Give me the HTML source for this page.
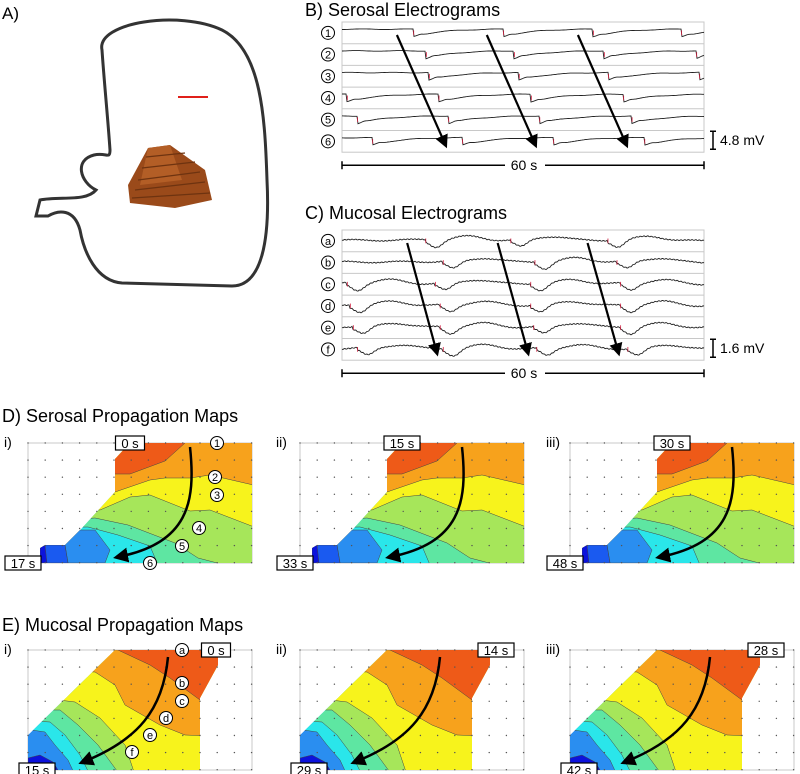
<!DOCTYPE html>
<html><head><meta charset="utf-8">
<style>
html,body{margin:0;padding:0;background:#fff;}
svg{display:block;font-family:"Liberation Sans",Arial,sans-serif;}
</style></head>
<body>
<svg id="fig" width="800" height="774" viewBox="0 0 800 774" xmlns="http://www.w3.org/2000/svg">
  <g>
    <text x="2" y="19" font-size="17">A)</text>
    <path fill="none" stroke="#333" stroke-width="3"
      d="M102,50 C96,22 180,10 222,30 C262,50 265,120 267,180 C270,240 262,286 232,286 L122,283 C96,281 84,252 80,230 C74,208 58,210 48,216 L36,216 L40,200 C60,196 86,202 96,190 C80,182 74,160 94,155 C106,152 110,160 110,150 C108,120 104,80 102,50 Z"/>
    <line x1="178" y1="97" x2="208" y2="97" stroke="#e0201a" stroke-width="2"/>
    <g>
      <polygon points="148,148 170,145 205,170 212,200 175,208 130,203 128,185" fill="#9a4a1a"/>
      <polygon points="148,148 170,145 182,180 140,185" fill="#b35e26"/>
      <g stroke="#6e3310" stroke-width="1.2">
        <line x1="135" y1="190" x2="205" y2="182"/><line x1="138" y1="180" x2="200" y2="172"/>
        <line x1="142" y1="168" x2="195" y2="162"/><line x1="146" y1="157" x2="185" y2="153"/>
        <line x1="132" y1="198" x2="210" y2="193"/>
      </g>
    </g>
  </g>

  <g id="panelB">
    <text x="305" y="16" font-size="18">B)  Serosal Electrograms</text>
  </g>
  <g id="panelC">
    <text x="305" y="219" font-size="18">C)  Mucosal Electrograms</text>
  </g>
  <text x="2" y="422" font-size="18">D)  Serosal Propagation Maps</text>
  <text x="2" y="631" font-size="18">E)  Mucosal Propagation Maps</text>
  <g id="maps"></g>
  <defs>
    <marker id="ah" markerWidth="6" markerHeight="6" refX="4" refY="3" orient="auto" markerUnits="strokeWidth">
      <path d="M0,0 L6,3 L0,6 Z" fill="#000"/>
    </marker>
  </defs>
</svg>
<script>
// ---- Electrogram data (activation times in seconds, 60 s window) ----
const serosalLabels = ['1','2','3','4','5','6'];
const serosalEvents = [
  [11.8, 26.7, 41.6, 56.2],
  [13.9, 28.5, 43.4, 58.7],
  [14.4, 29.3, 44.1, 59.2],
  [0.8, 16.0, 31.3, 46.6],
  [2.5, 17.6, 32.7, 48.0],
  [5.0, 19.9, 35.0, 50.1]
];
const mucosalLabels = ['a','b','c','d','e','f'];
const mucosalEvents = [
  [13.8, 27.9, 44.0],
  [16.7, 31.9, 45.5],
  [0.8, 15.4, 31.2, 46.1],
  [1.3, 16.2, 31.2, 46.1],
  [1.8, 16.2, 31.7, 46.1],
  [2.5, 16.7, 32.2, 47.3]
];
const serosalArrowTimes = [[9.1, 17.1], [24.0, 32.0], [39.1, 47.1]];
const mucosalArrowTimes = [[10.8, 15.7], [25.8, 30.8], [40.7, 45.8]];
const timeSpan = 60;

const NS = 'http://www.w3.org/2000/svg';
function mk(tag, attrs, parent){ const e=document.createElementNS(NS,tag); for(const k in attrs) e.setAttribute(k,attrs[k]); if(parent) parent.appendChild(e); return e; }

function drawElectrograms(g, top, labels, events, arrows, amp, smooth, scaleText, kind){
  const x0=342, x1=704, rowH=21.7, n=labels.length, bottom=top+rowH*n;
  const xs = t => x0 + t/timeSpan*(x1-x0);
  const fr = mk('rect',{x:x0,y:top,width:x1-x0,height:bottom-top,fill:'none',stroke:'#c8c8c8','stroke-width':1},g);
  
  
  for(let i=1;i<n;i++){
    const l=mk('line',{x1:x0,x2:x1,y1:top+i*rowH,y2:top+i*rowH,stroke:'#c8c8c8','stroke-width':1},g);
    
    
  }
  labels.forEach((lab,i)=>{
    const cy = top + rowH*(i+0.5);
    const c=mk('circle',{cx:328,cy:cy,r:6.5,fill:'#fff',stroke:'#000','stroke-width':1},g);
    
    
    const t=mk('text',{x:328,y:cy+4,'font-size':11,'text-anchor':'middle'},g);
    t.textContent=lab;
    
    
    const ev = events[i];
    let d='';
    for(let px=x0; px<=x1; px+=1){
      const t2=(px-x0)/(x1-x0)*timeSpan;
      let last=-1e9; for(const e of ev) if(e<=t2) last=e;
      let next=1e9; for(const e of ev) if(e>t2){next=e;break;}
      let v;
      const since=t2-last, until=next-t2;
      if(smooth){
        const p = last<-1e8 ? 12 : since;
        const dip = Math.exp(-Math.pow((p-1.8)/1.4,2));
        const rise = Math.exp(-Math.pow((p-7)/3.5,2));
        v = -0.8*dip + 0.55*rise + 0.1*Math.exp(-until/3) + 0.06*Math.sin(px*1.7) + 0.1*Math.sin(px/9+i);
      } else {
        const p = last<-1e8 ? 14 : since;
        v = 0.5 - 1.0*Math.exp(-p/4.5) + 0.1*Math.exp(-Math.pow((p-1.2)/0.6,2)) + 0.04*Math.sin(px/7+i);
      }
      const y = cy - v*amp;
      d += (px===x0?'M':'L')+px+','+y.toFixed(1);
    }
    const p=mk('path',{d:d,fill:'none',stroke:'#222','stroke-width':0.9},g);
    
    
    ev.forEach(e=>{
      const ex=xs(e);
      const r=mk('line',{x1:ex+0.5,x2:ex+0.5,y1:cy-amp*0.3,y2:cy+amp*0.3,stroke:'#d02040','stroke-width':0.8},g);
      
      
    });
  });
  arrows.forEach(a=>{
    const ar=mk('line',{x1:xs(a[0]),y1:top+13,x2:xs(a[1]),y2:bottom-8,stroke:'#000','stroke-width':2.2,'marker-end':'url(#ah)'},g);
    
    
  });
  const sy=bottom-12;
  const sb=mk('path',{d:`M710,${sy-9}h6M713,${sy-9}v18M710,${sy+9}h6`,stroke:'#000','stroke-width':1.5,fill:'none'},g);
  
  
  const st=mk('text',{x:720,y:sy+5,'font-size':14},g);
  st.textContent=scaleText;
  
  
  const ty=bottom+13;
  const tb=mk('path',{d:`M${x0},${ty}H505M545,${ty}H${x1}M${x0},${ty-4}v8M${x1},${ty-4}v8`,stroke:'#000','stroke-width':1.5,fill:'none'},g);
  
  
  const tt=mk('text',{x:524,y:ty+5,'font-size':14,'text-anchor':'middle'},g);
  tt.textContent='60 s';
  
  
}
drawElectrograms(document.getElementById('panelB'),22,serosalLabels,serosalEvents,serosalArrowTimes,8,false,'4.8 mV','serosal');
drawElectrograms(document.getElementById('panelC'),230,mucosalLabels,mucosalEvents,mucosalArrowTimes,8,true,'1.6 mV','mucosal');

// ---- Propagation maps ----
const serosalStart = [0, 15, 30];
const serosalEnd = [17, 33, 48];
const mucosalStart = [0, 14, 28];
const mucosalEnd = [15, 29, 42];
const romans=['i)','ii)','iii)'];
const mapX=[28,300,570];
const C={red:'#ee5a18',orange:'#f7a21c',yellow:'#f7f31c',green:'#a6e65a',aqua:'#5ee6a2',cyan:'#2ae6ea',blue:'#2a8ef0',blue2:'#1a5af0',dblue:'#0c12dc'};

const serShape=[[87,16],[102,0],[224,0],[224,120],[12,120],[12,105],[17,102],[37,102],[54,85],[87,49]];
const serBase=C.cyan;
const serBands=[
  [C.aqua,[[-10,85],[60,84],[90,92],[122,103],[130,122],[234,122]]],
  [C.green,[[-10,80],[67,75],[100,82],[147,100],[170,115],[197,122],[234,122]]],
  [C.yellow,[[-10,62],[72,67],[102,54],[122,52],[147,62],[162,68],[182,67],[234,87]]],
  [C.orange,[[-10,49],[87,49],[122,37],[137,35],[162,35],[182,32],[234,44]]],
  [C.red,[[-10,40],[87,31],[102,31],[137,18],[157,0],[160,-5],[234,-5]]]
];
const serPatches=[
  [C.blue,[[37,102],[52,87],[67,87],[82,107],[77,120],[40,120]]],
  [C.blue2,[[17,102],[37,102],[40,120],[16,120]]],
  [C.dblue,[[12,105],[17,102],[19,120],[12,120]]]
];
const mucShape=[[87,0],[190,0],[190,15],[172,48],[172,120],[0,120],[0,85]];
const mucBase=C.blue;
const mucBands=[
  [C.cyan,[[-10,78],[17,82],[27,95],[40,110],[47,125]]],
  [C.aqua,[[-10,70],[22,72],[37,85],[52,105],[62,125]]],
  [C.green,[[-10,60],[32,60],[50,75],[70,95],[92,125]]],
  [C.yellow,[[-10,45],[47,52],[72,68],[97,95],[107,125]]],
  [C.orange,[[-10,20],[67,22],[87,35],[97,55],[132,75],[157,85],[234,88]]],
  [C.red,[[-10,-5],[90,0],[122,15],[142,28],[172,50],[234,50]]]
];
const mucPatches=[[C.dblue,[[0,108],[12,105],[25,112],[30,120],[0,120]]]];

const mapsG=document.getElementById('maps');
let clipId=0;
function pts(a){return a.map(p=>p.join(',')).join(' ');}
function labelBox(g,cx,cy,txt,name){
  const w=txt.length*7+8;
  const r=mk('rect',{x:cx-w/2,y:cy-7,width:w,height:14,fill:'#fff',stroke:'#000','stroke-width':1.2},g);
  
  
  const t=mk('text',{x:cx,y:cy+5,'font-size':13,'text-anchor':'middle'},g);
  t.textContent=txt;
  
  
}
function circLabel(g,x,y,txt,kind){
  const c=mk('circle',{cx:x,cy:y,r:6.5,fill:'#fff',stroke:'#000','stroke-width':1},g);
  
  
  const t=mk('text',{x:x,y:y+4,'font-size':11,'text-anchor':'middle'},g);
  t.textContent=txt;
  
  
}
function drawMap(ox,oy,shape,base,bands,patches,kind,idx,arrowD,startTxt,startPos,endTxt,endPos,markers){
  const g=mk('g',{transform:`translate(${ox},${oy})`},mapsG);
  
  
  const rl=mk('text',{x:-24,y:4,'font-size':14},g);
  rl.textContent=romans[idx];
  
  
  const fr=mk('rect',{x:0,y:0,width:224,height:120,fill:'none',stroke:'#bbb','stroke-width':0.8},g);
  
  
  const id='clip'+(clipId++);
  const cp=mk('clipPath',{id:id},g); mk('polygon',{points:pts(shape)},cp);
  const cg=mk('g',{'clip-path':`url(#${id})`},g);
  
  
  mk('polygon',{points:pts(shape),fill:base},cg);
  bands.forEach(b=>{
    const line=b[1];
    const lastP=line[line.length-1];
    const tail = lastP[1]>=120 ? [[240,130],[240,-20],[-20,-20]] : [[240,lastP[1]],[240,-20],[-20,-20]];
    const poly=line.concat(tail);
    const p=mk('polygon',{points:pts(poly),fill:b[0],stroke:'#444','stroke-width':0.5},cg);
    
    
  });
  patches.forEach(b=>{
    const p=mk('polygon',{points:pts(b[1]),fill:b[0],stroke:'#444','stroke-width':0.5},cg);
    
    
  });
  for(let i=0;i<=13;i++)for(let j=0;j<=7;j++){
    const d=mk('circle',{cx:i*17.2,cy:j*17.1,r:0.7,fill:'#555'},g);
    
    
  }
  const ar=mk('path',{d:arrowD,fill:'none',stroke:'#000','stroke-width':2.5,'marker-end':'url(#ah)'},g);
  
  
  if(markers) markers.forEach(m=>circLabel(g,m[0],m[1],m[2],kind));
  labelBox(g,startPos[0],startPos[1],startTxt,kind+'-start-time-label');
  labelBox(g,endPos[0],endPos[1],endTxt,kind+'-end-time-label');
}
const serMarkers=[[189,0,'1'],[187,34,'2'],[189,52,'3'],[171,85,'4'],[154,103,'5'],[122,120,'6']];
const mucMarkers=[[154,0,'a'],[154,33,'b'],[154,51,'c'],[138,68,'d'],[122,85,'e'],[104,102,'f']];
for(let k=0;k<3;k++){
  drawMap(mapX[k],443,serShape,serBase,serBands,serPatches,'serosal',k,'M162,4 C168,60 160,100 90,114',
    serosalStart[k]+' s',[102,0],serosalEnd[k]+' s',[-5,120],k===0?serMarkers:null);
  drawMap(mapX[k],650,mucShape,mucBase,mucBands,mucPatches,'mucosal',k,'M140,7 C135,60 110,90 55,112',
    mucosalStart[k]+' s',[k===0?188:196,0],mucosalEnd[k]+' s',[9,120],k===0?mucMarkers:null);
}
</script>
</body></html>
